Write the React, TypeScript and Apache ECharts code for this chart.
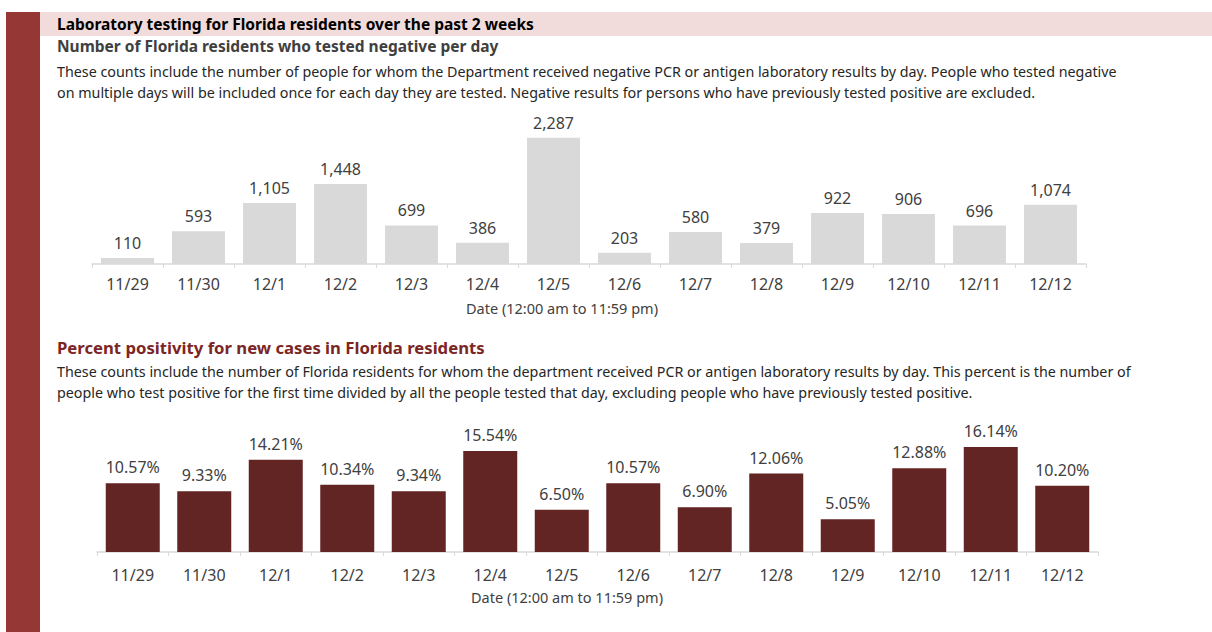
import React, { useEffect, useRef } from "react";
import * as echarts from "echarts";

const dates = ["11/29", "11/30", "12/1", "12/2", "12/3", "12/4", "12/5", "12/6", "12/7", "12/8", "12/9", "12/10", "12/11", "12/12"];
const negatives = [110, 593, 1105, 1448, 699, 386, 2287, 203, 580, 379, 922, 906, 696, 1074];
const positivity = [10.57, 9.33, 14.21, 10.34, 9.34, 15.54, 6.5, 10.57, 6.9, 12.06, 5.05, 12.88, 16.14, 10.2];

const mainTitle = "Laboratory testing for Florida residents over the past 2 weeks";
const sub1 = "Number of Florida residents who tested negative per day";
const desc1a = "These counts include the number of people for whom the Department received negative PCR or antigen laboratory results by day. People who tested negative";
const desc1b = "on multiple days will be included once for each day they are tested. Negative results for persons who have previously tested positive are excluded.";
const sub2 = "Percent positivity for new cases in Florida residents";
const desc2a = "These counts include the number of Florida residents for whom the department received PCR or antigen laboratory results by day. This percent is the number of";
const desc2b = "people who test positive for the first time divided by all the people tested that day, excluding people who have previously tested positive.";
const axisName = "Date (12:00 am to 11:59 pm)";

const FONT = "'Noto Sans', sans-serif";

export default function App() {
  const ref = useRef<HTMLDivElement>(null);
  useEffect(() => {
    document.body.style.margin = "0";
    const chart = echarts.init(ref.current!, null, { renderer: "svg" });
    const txt = (x: number, y: number, text: string, size: number, color: string, weight = "normal", align = "left") => ({
      type: "text",
      x,
      y,
      style: { text, fontSize: size, fill: color, fontWeight: weight, fontFamily: FONT, textAlign: align, textVerticalAlign: "middle" },
    });
    chart.setOption({
      animation: false,
      backgroundColor: "#ffffff",
      graphic: [
        { type: "rect", shape: { x: 6, y: 12, width: 34, height: 620 }, style: { fill: "#953735" } },
        { type: "rect", shape: { x: 40, y: 12, width: 1172, height: 24 }, style: { fill: "#f2dcdb" } },
        txt(57, 24, mainTitle, 15.5, "#000000", "bold"),
        txt(57, 46, sub1, 15.5, "#404040", "bold"),
        txt(57, 71, desc1a, 14.3, "#262626"),
        txt(57, 92, desc1b, 14.3, "#262626"),
        txt(562, 308, axisName, 14.5, "#404040", "normal", "center"),
        txt(57, 347, sub2, 16.7, "#7b2624", "bold"),
        txt(57, 371, desc2a, 14.3, "#262626"),
        txt(57, 392, desc2b, 14.3, "#262626"),
        txt(567, 597, axisName, 14.5, "#404040", "normal", "center"),
      ],
      grid: [
        { left: 92, width: 994, top: 126, height: 138 },
        { left: 97, width: 1001, top: 422, height: 130 },
      ],
      xAxis: [0, 1].map((i) => ({
        type: "category",
        gridIndex: i,
        data: dates,
        axisLine: { lineStyle: { color: "#d9d9d9", width: 1.5 } },
        axisTick: { show: true, length: 4, lineStyle: { color: "#d9d9d9" } },
        axisLabel: { color: "#404040", fontSize: 16, fontFamily: FONT, margin: i === 0 ? 12 : 15 },
      })),
      yAxis: [
        { type: "value", gridIndex: 0, min: 0, max: 2500, show: false },
        { type: "value", gridIndex: 1, min: 0, max: 20, show: false },
      ],
      series: [
        {
          type: "bar",
          xAxisIndex: 0,
          yAxisIndex: 0,
          data: negatives,
          barWidth: 53,
          itemStyle: { color: "#d9d9d9" },
          label: {
            show: true,
            position: "top",
            distance: 7,
            color: "#404040",
            fontSize: 16,
            fontFamily: FONT,
            formatter: (p: any) => Number(p.value).toLocaleString("en-US"),
          },
        },
        {
          type: "bar",
          xAxisIndex: 1,
          yAxisIndex: 1,
          data: positivity,
          barWidth: 54,
          itemStyle: { color: "#632523" },
          label: {
            show: true,
            position: "top",
            distance: 8,
            color: "#404040",
            fontSize: 16,
            fontFamily: FONT,
            formatter: (p: any) => Number(p.value).toFixed(2) + "%",
          },
        },
      ],
    });
    return () => chart.dispose();
  }, []);
  return <div ref={ref} style={{ position: "absolute", left: 0, top: 0, width: 1212, height: 632 }} />;
}
